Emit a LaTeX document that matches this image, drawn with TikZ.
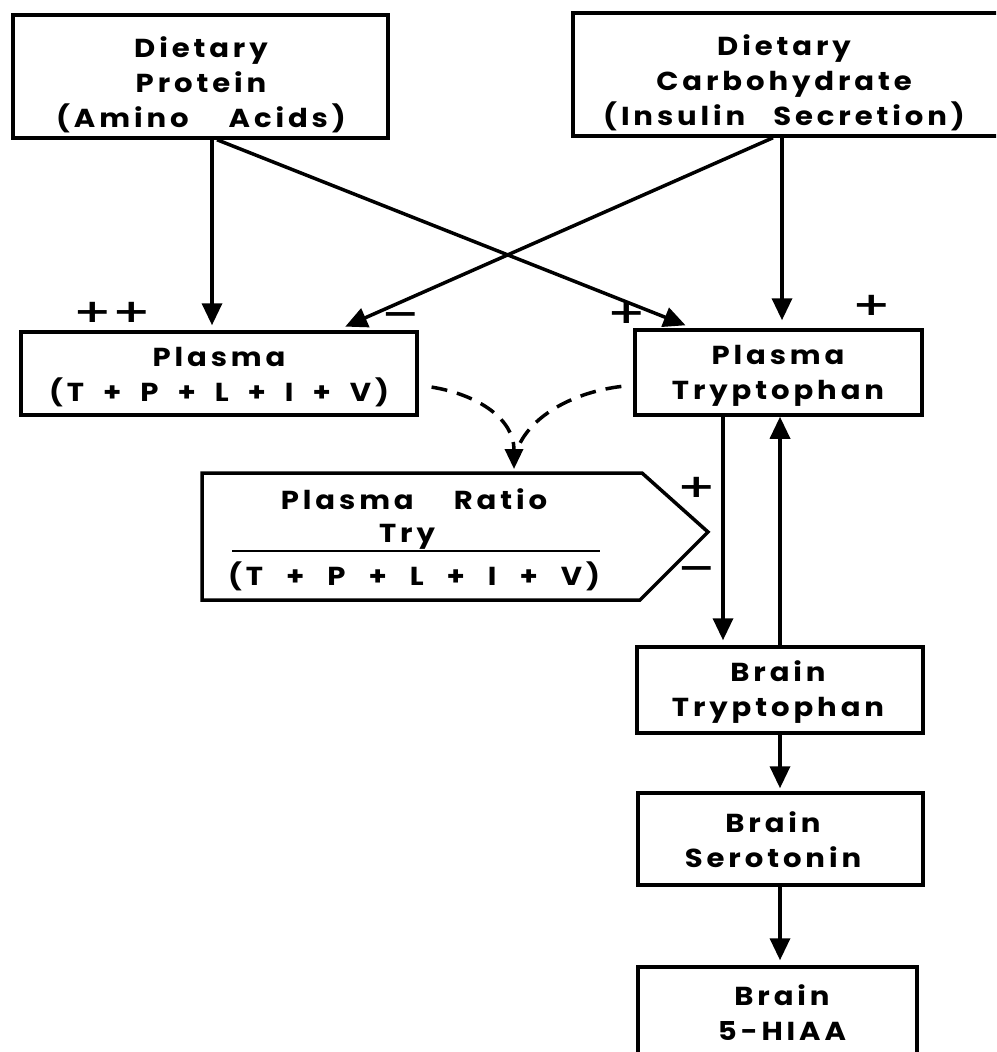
\documentclass[tikz,border=0pt]{standalone}
\usepackage{fontspec}
\usepackage{graphicx}
\setmainfont{Poppins}[LetterSpace=15,FakeStretch=1.12]
\newfontfamily\signfont{DejaVu Sans}
\usetikzlibrary{arrows.meta}
\tikzset{
  boxshape/.style={draw, line width=3.5pt, inner sep=0pt},
  txt/.style={font=\fontsize{26}{35}\selectfont\bfseries, align=center, inner sep=0pt},
  arr/.style={line width=3.5pt, -{Triangle[length=22pt,width=20pt]}},
  darr/.style={line width=3.5pt, dash pattern=on 16pt off 10pt, -{Triangle[length=20pt,width=18pt]}},
  sign/.style={font=\signfont\bfseries\fontsize{46}{46}\selectfont, inner sep=0pt}
}
\newcommand{\flatsign}[1]{\scalebox{1}[0.7]{#1}}
\newcommand{\sumtext}[1]{(T\hspace{#1}+\hspace{#1}P\hspace{#1}+\hspace{#1}L\hspace{#1}+\hspace{#1}I\hspace{#1}+\hspace{#1}V)}
\begin{document}
\begin{tikzpicture}[x=1pt,y=-1pt]
\useasboundingbox (0,0) rectangle (996,1052);
\fill[white] (0,0) rectangle (996,1052);
\clip (0,0) rectangle (996,1052);

% boxes
\node[boxshape, minimum width=375pt, minimum height=123pt] (prot) at (200.5,76.5) {};
\node[boxshape, minimum width=437pt, minimum height=123pt] (carb) at (791.5,74.5) {};
\node[boxshape, minimum width=396pt, minimum height=83pt] (pl) at (219,373.5) {};
\node[boxshape, minimum width=287pt, minimum height=85pt] (pt) at (778.5,372.5) {};
\node[boxshape, minimum width=286pt, minimum height=86pt] (bt) at (780,690) {};
\node[boxshape, minimum width=285pt, minimum height=92pt] (bs) at (780.5,839) {};
\node[boxshape, minimum width=279pt, minimum height=96pt] (bh) at (777.5,1015) {};
\draw[line width=3.5pt, line join=miter] (202,473) coordinate (ratioNW) -- (642,473) -- (708,532) coordinate (ratioTip) -- (640,600) -- (202,600) -- cycle;
\coordinate (ratioTop) at (514,473);

% texts
\node[txt] (protT) at (201,85) {Dietary\\Protein\\(Amino\hspace{40pt}Acids)};
\node[txt] (carbT) at (784,83) {Dietary\\Carbohydrate\\(Insulin\hspace{28pt}Secretion)};
\node[txt] (plT) at (219,377) {Plasma\\\sumtext{19pt}};
\node[txt] (ptT) at (778,376) {Plasma\\Tryptophan};
\node[txt] (ratioT1) at (414,499) {Plasma\hspace{40pt}Ratio};
\node[txt] (ratioT2) at (407,537) {Try};
\node[txt] (ratioT3) at (414,576) {\sumtext{23pt}};
\draw[line width=2.5pt] (232,551) -- (600,551);
\node[txt] (btT) at (778,692) {Brain\\Tryptophan};
\node[txt] (bsT) at (773,840) {Brain\\Serotonin};
\node[txt] (bhT) at (782,1013) {Brain\\5-HIAA};

% signs
\node[sign] (s1) at (112,312) {\flatsign{++}};
\node[sign] (s2) at (401,319) {\flatsign{−}};
\node[sign] (s3) at (627,313) {\flatsign{+}};
\node[sign] (s4) at (872,305) {\flatsign{+}};
\node[sign] (s5) at (697,487) {\flatsign{+}};
\node[sign] (s6) at (697,573) {\flatsign{−}};

% connectors
\draw[arr, shorten >=5pt] (212,0 |- prot.south) -- (212,0 |- pl.north);
\draw[arr, shorten >=8pt] (217,0 |- prot.south) -- (693,0 |- pt.north);
\draw[arr, shorten >=9pt] (773,0 |- carb.south) -- (337,0 |- pl.north);
\draw[arr, shorten >=8pt] (782,0 |- carb.south) -- (782,0 |- pt.north);
\draw[arr, shorten >=5pt] (723,0 |- pt.south) -- (723,0 |- bt.north);
\draw[arr] (780,0 |- bt.north) -- (780,0 |- pt.south);
\draw[arr, shorten >=3pt] (780,0 |- bt.south) -- (780,0 |- bs.north);
\draw[arr, shorten >=5pt] (780,0 |- bs.south) -- (780,0 |- bh.north);
\draw[darr, shorten <=13pt, shorten >=4pt] (pl.east |- 0,385) .. controls (480,395) and (514,420) .. (ratioTop);
\draw[line width=3.5pt, dash pattern=on 16pt off 10pt, shorten <=12pt] (pt.west |- 0,385) .. controls (575,392) and (530,415) .. (517,450);
\end{tikzpicture}
\end{document}
